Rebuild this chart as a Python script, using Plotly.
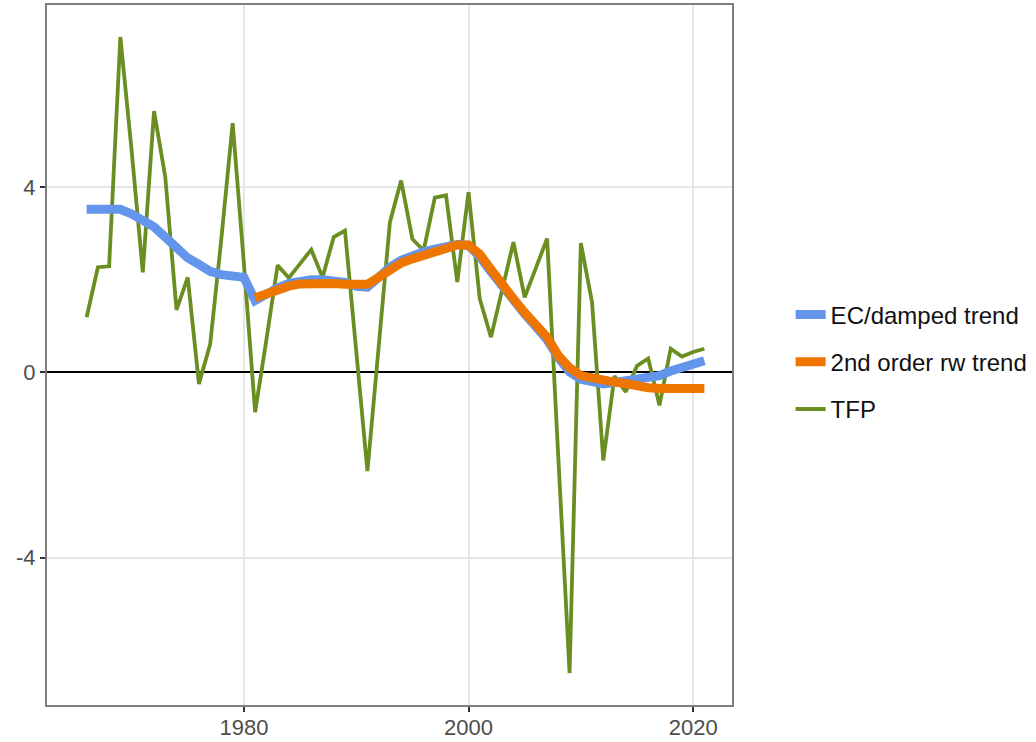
import plotly.graph_objects as go

# Annual observations
years = list(range(1966, 2022))

tfp = [1.19, 2.27, 2.29, 7.24, 4.80, 2.16, 5.64, 4.22, 1.35, 2.05,
       -0.25, 0.61, 2.90, 5.38, 2.35, -0.86, 0.70, 2.31, 2.04, 2.34,
       2.65, 2.05, 2.92, 3.06, 0.45, -2.13, 0.55, 3.24, 4.14, 2.88,
       2.63, 3.77, 3.82, 1.95, 3.89, 1.59, 0.76, 1.80, 2.81, 1.62,
       2.25, 2.89, -1.86, -6.49, 2.79, 1.51, -1.90, -0.08, -0.42, 0.14,
       0.30, -0.71, 0.51, 0.34, 0.44, 0.51]

ec_damped = [3.52, 3.53, 3.54, 3.52, 3.42, 3.30, 3.14, 2.92, 2.70, 2.47,
             2.33, 2.18, 2.11, 2.07, 2.05, 1.55, 1.70, 1.82, 1.92, 1.98,
             2.00, 2.00, 1.98, 1.94, 1.86, 1.84, 2.05, 2.27, 2.42, 2.52,
             2.60, 2.66, 2.72, 2.76, 2.74, 2.50, 2.17, 1.84, 1.55, 1.26,
             0.99, 0.70, 0.32, 0.01, -0.15, -0.22, -0.25, -0.22, -0.18, -0.14,
             -0.11, -0.07, 0.03, 0.11, 0.18, 0.25]

rw_years = list(range(1981, 2022))
rw_trend = [1.61, 1.71, 1.80, 1.86, 1.91, 1.92, 1.92, 1.92, 1.90, 1.88,
            1.90, 2.05, 2.23, 2.36, 2.45, 2.53, 2.61, 2.70, 2.75, 2.75,
            2.55, 2.22, 1.88, 1.59, 1.29, 1.03, 0.76, 0.36, 0.10, -0.07,
            -0.13, -0.17, -0.21, -0.24, -0.30, -0.33, -0.35, -0.35, -0.35, -0.35,
            -0.35]

x_ticks = [1980, 2000, 2020]
y_ticks = [-4, 0, 4]
y_tick_labels = ["-4", "0", "4"]

fig = go.Figure()

fig.add_trace(go.Scatter(
    x=years, y=tfp, mode="lines", name="TFP",
    line=dict(color="#6B8E23", width=3.8),
    legendgroup="c", legendrank=3,
))
fig.add_trace(go.Scatter(
    x=years, y=ec_damped, mode="lines", name="EC/damped trend",
    line=dict(color="#6495ED", width=9),
    legendgroup="a", legendrank=1,
))
fig.add_trace(go.Scatter(
    x=rw_years, y=rw_trend, mode="lines", name="2nd order rw trend",
    line=dict(color="#EE7600", width=9),
    legendgroup="b", legendrank=2,
))

tick_font = dict(family="Liberation Sans, Arial, sans-serif", size=22, color="#4D4D4D")

axis_common = dict(
    showline=True, mirror=True, linecolor="#7F7F7F", linewidth=2,
    showgrid=True, gridcolor="#E6E6E6", gridwidth=1.5,
    ticks="outside", ticklen=5, tickwidth=1.5, tickcolor="#333333",
    tickfont=tick_font, automargin=False,
)

fig.update_xaxes(
    range=[1962.47, 2023.46], tickvals=x_ticks, zeroline=False,
    ticklabelstandoff=-3, **axis_common
)
fig.update_yaxes(
    range=[-7.18, 7.93], tickvals=y_ticks, ticktext=y_tick_labels,
    zeroline=True, zerolinecolor="#000000", zerolinewidth=2, **axis_common
)

fig.update_layout(
    width=1036, height=742,
    margin=dict(l=47, r=303, t=5, b=37),
    plot_bgcolor="white", paper_bgcolor="white",
    font=dict(family="Liberation Sans, Arial, sans-serif", color="#000000"),
    legend=dict(
        x=1.084, xanchor="left", y=0.49, yanchor="middle",
        traceorder="grouped", tracegroupgap=13,
        font=dict(family="Liberation Sans, Arial, sans-serif", size=24, color="#111111"),
        bgcolor="rgba(0,0,0,0)",
    ),
)

fig.write_html("out.html")
